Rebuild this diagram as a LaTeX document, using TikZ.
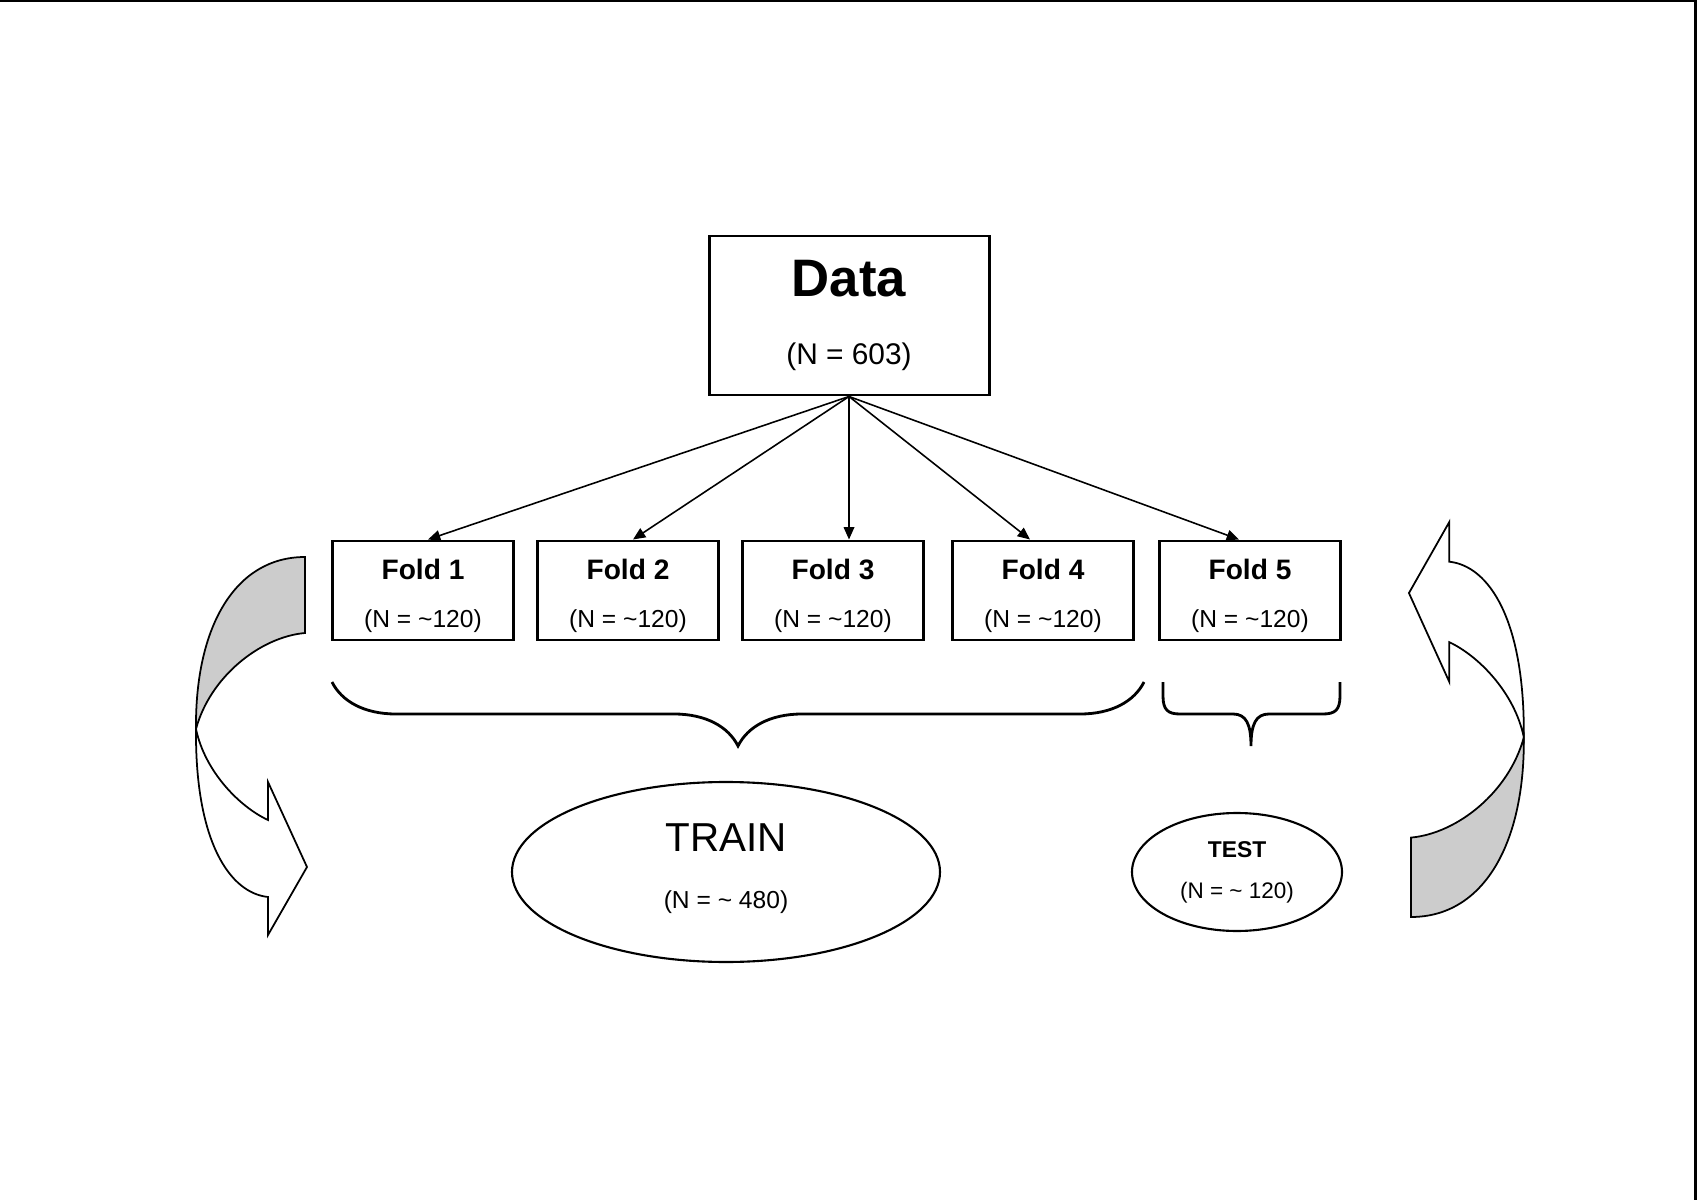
\documentclass[tikz,border=0pt]{standalone}
\usepackage{fontspec}
\setmainfont{Liberation Sans}
\usetikzlibrary{arrows.meta, positioning, calc, decorations.pathreplacing, shapes.geometric}

\begin{document}
\begin{tikzpicture}[
  box/.style={draw, line width=0.85pt, inner sep=0pt, align=center},
  foldbox/.style={box, minimum width=1.81cm, minimum height=0.99cm,
                  font=\fontsize{7}{13.6}\selectfont},
  setnode/.style={draw, ellipse, line width=0.6pt, inner sep=0pt, align=center},
  arr/.style={-{Triangle[length=3.5pt, width=3pt]}, line width=0.45pt},
  brc/.style={line width=0.8pt},
  bentarrow/.pic={
    % front of the band, with the head
    \draw[fill=white, line width=0.5pt] (-1.09,-1.72)
      .. controls (-1.10,-2.85) and (-0.75,-3.36) .. (-0.37,-3.40)
      -- (-0.37,-3.78) -- (0.02,-3.10) -- (-0.37,-2.25) -- (-0.37,-2.63)
      .. controls (-0.65,-2.50) and (-1.00,-2.15) .. (-1.09,-1.72) -- cycle;
    % back of the band (shaded)
    \draw[fill=gray!40, line width=0.5pt] (0,0)
      .. controls (-0.70,0) and (-1.10,-0.70) .. (-1.09,-1.72)
      .. controls (-0.95,-1.20) and (-0.45,-0.80) .. (0,-0.76) -- cycle;
  }
]
  \useasboundingbox (0,0) rectangle (16.97,12);
  \draw[line width=0.6pt] (0,11.99) -- (16.955,11.99) -- (16.955,0);

  % whole data set
  \node[box, minimum width=2.80cm, minimum height=1.59cm,
        font=\fontsize{8.5}{19.6}\selectfont] (data) at (8.49,8.845)
        {{\fontsize{15}{19.6}\selectfont\bfseries Data}\\(N = 603)};

  % the five folds
  \foreach \i/\x/\dx in {1/4.23/0.05, 2/6.28/0.05, 3/8.33/0.16, 4/10.43/-0.13, 5/12.50/-0.11} {
    \node[foldbox] (f\i) at (\x,6.095)
          {\rule{0pt}{9pt}{\fontsize{8}{13.6}\selectfont\bfseries Fold \i}\\(N = \textasciitilde120)};
    \draw[arr] (data.south) -- ([xshift=\dx cm]f\i.north);
  }

  % grouping of the folds
  \draw[brc, decorate, decoration={brace, mirror, amplitude=0.64cm}] (3.32,5.18) -- (11.44,5.18);
  \draw[brc] (11.63,5.18) -- (11.63,5.04) .. controls (11.63,4.90) and (11.68,4.86) .. (11.80,4.86)
    -- (12.33,4.86) .. controls (12.46,4.86) and (12.51,4.76) .. (12.51,4.54)
    .. controls (12.51,4.76) and (12.56,4.86) .. (12.69,4.86)
    -- (13.23,4.86) .. controls (13.35,4.86) and (13.40,4.90) .. (13.40,5.04) -- (13.40,5.18);

  \node[setnode, minimum width=4.28cm, minimum height=1.80cm,
        font=\fontsize{7}{16.2}\selectfont] (train) at (7.26,3.28)
        {{\fontsize{11.5}{16.2}\selectfont TRAIN}\\(N = \textasciitilde\ 480)\rule[-3.3pt]{0pt}{0pt}};
  \node[setnode, minimum width=2.10cm, minimum height=1.18cm,
        font=\fontsize{6.4}{11.6}\selectfont] (test) at (12.37,3.28)
        {{\fontsize{6.5}{11.6}\selectfont\bfseries TEST}\\(N = \textasciitilde\ 120)};

  % rotation of the folds
  \pic at (3.05,6.43) {bentarrow};
  \pic[rotate=180, xscale=1.035, yscale=1.045] at (14.11,2.83) {bentarrow};
\end{tikzpicture}
\end{document}
